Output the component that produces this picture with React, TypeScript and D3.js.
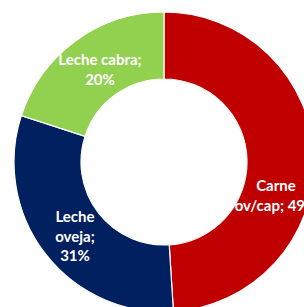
import React from "react";
import * as d3 from "d3";

const categories = ["Carne ov/cap", "Leche oveja", "Leche cabra"];
const values = [49, 31, 20];
const colors = ["#C00000", "#002060", "#92D050"];
const labelLines = [
  ["Carne", "ov/cap; 49%"],
  ["Leche", "oveja;", "31%"],
  ["Leche cabra;", "20%"],
];

export default function App() {
  const W = 304, H = 307;
  const cx = 164, cy = 162;
  const outer = 150, inner = 83;
  const pie = d3.pie<number>().sort(null).value((d) => d)(values);
  const arc = d3.arc<d3.PieArcDatum<number>>().innerRadius(inner).outerRadius(outer);
  const labelPos: [number, number][] = [
    [276, 186],
    [75, 217],
    [100, 60],
  ];
  const lh = 19.5;
  return (
    <svg width={W} height={H} style={{ position: "absolute", left: 0, top: 0 }}>
      <rect width={W} height={H} fill="#fff" />
      <g transform={`translate(${cx},${cy})`}>
        {pie.map((p, i) => (
          <path key={categories[i]} d={arc(p) || ""} fill={colors[i]} stroke="#fff" strokeWidth={1.2} />
        ))}
      </g>
      {labelLines.map((lines, i) => (
        <text
          key={i}
          textAnchor="middle"
          fontFamily="Lato, 'Open Sans', sans-serif"
          fontWeight="bold"
          fontSize={15}
          fill="#fff"
        >
          {lines.map((l, j) => (
            <tspan key={j} x={labelPos[i][0]} y={labelPos[i][1] + j * lh} dy="0.35em">
              {l}
            </tspan>
          ))}
        </text>
      ))}
    </svg>
  );
}
